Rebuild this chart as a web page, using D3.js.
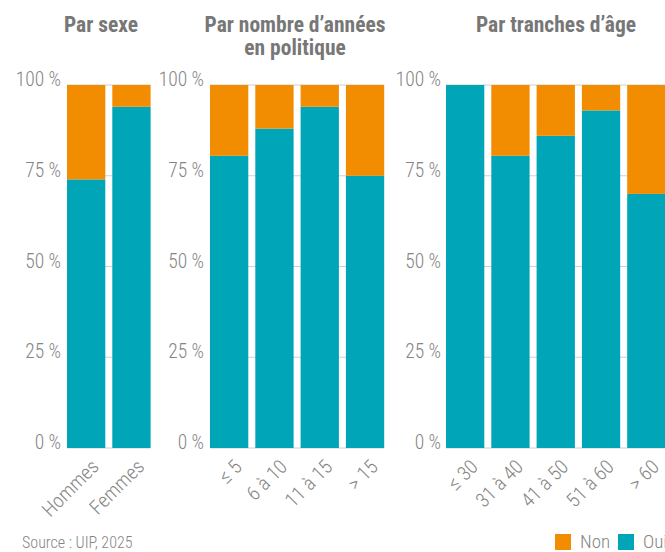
<!DOCTYPE html>
<html><head><meta charset="utf-8">
<script src="https://cdn.jsdelivr.net/npm/d3@7"></script>
<style>
body{margin:0;background:#fff;}
svg text{font-family:"Roboto Condensed","Liberation Sans Narrow","DejaVu Sans Condensed","Arial Narrow",sans-serif;}
</style></head>
<body><svg id="c" width="665" height="552"></svg>
<script>
const sexCats = ["Hommes", "Femmes"];
const sexOui = [74, 94];
const sexNon = [26, 6];
const yearCats = ["≤ 5", "6 à 10", "11 à 15", "> 15"];
const yearOui = [80.5, 88, 94, 75];
const yearNon = [19.5, 12, 6, 25];
const ageCats = ["≤ 30", "31 à 40", "41 à 50", "51 à 60", "> 60"];
const ageOui = [100, 80.5, 86, 93, 70];
const ageNon = [0, 19.5, 14, 7, 30];
const yTicks = [0, 25, 50, 75, 100];
const seriesNames = ["Non", "Oui"];

const COL_OUI = "#00a5b8", COL_NON = "#f28c00", TXT = "#858585", TITLE = "#777777";
const svg = d3.select("#c");
const y = d3.scaleLinear().domain([0, 100]).range([448, 85]);

const panels = [
  {title: ["Par sexe"], cats: sexCats, oui: sexOui, non: sexNon, x0: 67, labelX: 61, titleX: 101},
  {title: ["Par nombre d\u2019années", "en politique"], cats: yearCats, oui: yearOui, non: yearNon, x0: 210, labelX: 204, titleX: 295},
  {title: ["Par tranches d\u2019âge"], cats: ageCats, oui: ageOui, non: ageNon, x0: 446, labelX: 441, titleX: 556}
];
const step = 45.3, bw = 38.3;

panels.forEach(p => {
  const n = p.cats.length;
  const x = d3.scaleBand().domain(p.cats)
    .range([p.x0, p.x0 + n * step - (step - bw)]).paddingInner((step - bw) / step).paddingOuter(0);
  const g = svg.append("g");
  g.selectAll("line.grid").data(yTicks).join("line")
    .attr("x1", x.range()[0]).attr("x2", x.range()[1])
    .attr("y1", d => y(d)).attr("y2", d => y(d))
    .attr("stroke", "#d0d0d0").attr("stroke-width", 1.2);
  g.selectAll("text.yl").data(yTicks).join("text")
    .attr("x", p.labelX).attr("y", d => y(d) + 1)
    .attr("text-anchor", "end").attr("fill", TXT).attr("font-size", 19.5).attr("font-weight", 300)
    .text(d => d + " %");
  const rows = p.cats.map((c, i) => ({c, oui: p.oui[i], non: p.non[i]}));
  g.selectAll("rect.oui").data(rows).join("rect")
    .attr("x", d => x(d.c)).attr("width", x.bandwidth())
    .attr("y", d => y(d.oui)).attr("height", d => y(0) - y(d.oui))
    .attr("fill", COL_OUI);
  g.selectAll("rect.non").data(rows).join("rect")
    .attr("x", d => x(d.c)).attr("width", x.bandwidth())
    .attr("y", d => y(d.oui + d.non)).attr("height", d => y(d.oui) - y(d.oui + d.non))
    .attr("fill", COL_NON);
  g.selectAll("text.xl").data(p.cats).join("text")
    .attr("transform", d => `translate(${x(d) + x.bandwidth() / 2 + 14},${468}) rotate(-45)`)
    .attr("text-anchor", "end").attr("fill", TXT).attr("font-size", 20).attr("font-weight", 300)
    .text(d => d);
  g.selectAll("text.t").data(p.title).join("text")
    .attr("x", p.titleX).attr("y", (d, i) => 32 + i * 23)
    .attr("text-anchor", "middle").attr("fill", TITLE).attr("font-size", 21.5).attr("font-weight", "bold")
    .text(d => d);
});

svg.append("text").attr("x", 22).attr("y", 548).attr("fill", TXT).attr("font-size", 16).attr("font-weight", 300)
  .text("Source : UIP, 2025");

const leg = svg.append("g");
const legColors = [COL_NON, COL_OUI];
const legX = [555, 618];
seriesNames.forEach((s, i) => {
  leg.append("rect").attr("x", legX[i]).attr("y", 534).attr("width", 16).attr("height", 16).attr("fill", legColors[i]);
  leg.append("text").attr("x", legX[i] + 25).attr("y", 548).attr("fill", TXT).attr("font-size", 19).attr("font-weight", 300).text(s);
});
</script></body></html>
